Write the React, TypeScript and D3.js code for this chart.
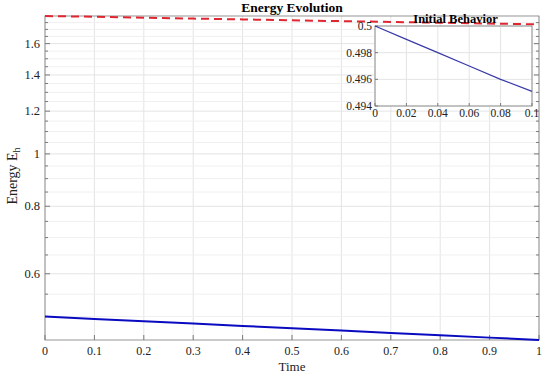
import React from "react";
import * as d3 from "d3";

// values
const times = [0, 0.1, 0.2, 0.3, 0.4, 0.5, 0.6, 0.7, 0.8, 0.9, 1];
const energyH = [0.5, 0.495, 0.4901, 0.4852, 0.4804, 0.4756, 0.4709, 0.4662, 0.4616, 0.457, 0.4524];
const upperBound = [1.8, 1.794, 1.787, 1.78, 1.774, 1.767, 1.761, 1.755, 1.749, 1.743, 1.737];
const yMajor = [0.6, 0.8, 1, 1.2, 1.4, 1.6];
const yMinor = [0.5, 0.55, 0.65, 0.7, 0.75, 0.85, 0.9, 0.95, 1.05, 1.1, 1.15, 1.25, 1.3, 1.35, 1.45, 1.5, 1.55, 1.65, 1.7, 1.75];

const insetTimes = [0, 0.02, 0.04, 0.06, 0.08, 0.1];
const insetEnergy = [0.5, 0.499, 0.498, 0.497, 0.496, 0.4951];
const insetYTicks = [0.494, 0.496, 0.498, 0.5];

const font = "Liberation Serif";

export default function App() {
  const W = 550, H = 376;
  const m = { left: 45, right: 539, top: 16, bottom: 340 };

  const x = d3.scaleLinear().domain([0, 1]).range([m.left, m.right]);
  const y = d3.scaleLog().domain([0.4524, 1.8]).range([m.bottom, m.top]);
  const line = d3.line<number>().x((_, i) => x(times[i])).y((v) => y(v));

  const ins = { left: 375, right: 532, top: 26, bottom: 106 };
  const ix = d3.scaleLinear().domain([0, 0.1]).range([ins.left, ins.right]);
  const iy = d3.scaleLinear().domain([0.494, 0.5]).range([ins.bottom, ins.top]);
  const iline = d3.line<number>().x((_, i) => ix(insetTimes[i])).y((v) => iy(v));

  const grid = "#e4e4e4";
  const axis = "#7a7a7a";
  const xTicks = x.ticks(10);

  return (
    <svg width={W} height={H} fontFamily={font} style={{ position: "absolute", left: 0, top: 0 }}>
      <rect width={W} height={H} fill="#fff" />
      {/* grid */}
      {xTicks.map((t) => (
        <line key={"gx" + t} x1={x(t)} x2={x(t)} y1={m.top} y2={m.bottom} stroke={grid} />
      ))}
      {yMinor.map((t) => (
        <line key={"gm" + t} x1={m.left} x2={m.right} y1={y(t)} y2={y(t)} stroke="#f0f0f0" />
      ))}
      {yMajor.map((t) => (
        <line key={"gy" + t} x1={m.left} x2={m.right} y1={y(t)} y2={y(t)} stroke={grid} />
      ))}
      {/* box and ticks */}
      <rect x={m.left} y={m.top} width={m.right - m.left} height={m.bottom - m.top} fill="none" stroke={axis} strokeWidth={0.8} />
      {xTicks.map((t) => (
        <g key={"tx" + t}>
          <line x1={x(t)} x2={x(t)} y1={m.bottom} y2={m.bottom - 5} stroke={axis} />
          <text x={x(t)} y={355} textAnchor="middle" fontSize={12} fontFamily={font} fill="#222">{t}</text>
        </g>
      ))}
      {yMajor.map((t) => (
        <g key={"ty" + t}>
          <line x1={m.left} x2={m.left + 5} y1={y(t)} y2={y(t)} stroke={axis} />
          <line x1={m.right} x2={m.right - 5} y1={y(t)} y2={y(t)} stroke={axis} />
          <text x={m.left - 5} y={y(t) + 4} textAnchor="end" fontSize={12.5} fontFamily={font} fill="#222">{t}</text>
        </g>
      ))}
      {yMinor.map((t) => (
        <g key={"tm" + t}>
          <line x1={m.left} x2={m.left + 3} y1={y(t)} y2={y(t)} stroke={axis} />
          <line x1={m.right} x2={m.right - 3} y1={y(t)} y2={y(t)} stroke={axis} />
        </g>
      ))}
      {/* series */}
      <path d={line(energyH) || ""} fill="none" stroke="#0a0ac0" strokeWidth={2} />
      <path d={line(upperBound) || ""} fill="none" stroke="#e02630" strokeWidth={2} strokeDasharray="8,5" />
      {/* labels */}
      <text x={292} y={12} textAnchor="middle" fontSize={13.5} fontWeight="bold" fontFamily={font} fill="#000">Energy Evolution</text>
      <text x={292} y={371} textAnchor="middle" fontSize={13} fontFamily={font} fill="#222">Time</text>
      <text transform={`translate(17,${(m.top + m.bottom) / 2 - 2}) rotate(-90)`} textAnchor="middle" fontSize={14} fontFamily={font} fill="#222">
        Energy E<tspan fontSize={10} dy={3}>h</tspan>
      </text>

      {/* inset */}
      <rect x={ins.left} y={ins.top} width={ins.right - ins.left} height={ins.bottom - ins.top} fill="#fff" />
      {ix.ticks(5).map((t) => (
        <line key={"igx" + t} x1={ix(t)} x2={ix(t)} y1={ins.top} y2={ins.bottom} stroke={grid} />
      ))}
      {insetYTicks.map((t) => (
        <line key={"igy" + t} x1={ins.left} x2={ins.right} y1={iy(t)} y2={iy(t)} stroke={grid} />
      ))}
      <rect x={ins.left} y={ins.top} width={ins.right - ins.left} height={ins.bottom - ins.top} fill="none" stroke={axis} strokeWidth={0.8} />
      {ix.ticks(5).map((t) => (
        <g key={"itx" + t}>
          <line x1={ix(t)} x2={ix(t)} y1={ins.bottom} y2={ins.bottom - 3} stroke={axis} />
          <text x={ix(t)} y={117} textAnchor="middle" fontSize={11.5} fontFamily={font} fill="#222">{t}</text>
        </g>
      ))}
      {insetYTicks.map((t) => (
        <g key={"ity" + t}>
          <line x1={ins.left} x2={ins.left + 3} y1={iy(t)} y2={iy(t)} stroke={axis} />
          <text x={ins.left - 3} y={iy(t) + 4} textAnchor="end" fontSize={11.5} fontFamily={font} fill="#222">{t}</text>
        </g>
      ))}
      <path d={iline(insetEnergy) || ""} fill="none" stroke="#3a3aa8" strokeWidth={1.2} />
      <text x={(ins.left + ins.right) / 2 + 2} y={23} textAnchor="middle" fontSize={12.5} fontWeight="bold" fontFamily={font} fill="#000">Initial Behavior</text>
    </svg>
  );
}
